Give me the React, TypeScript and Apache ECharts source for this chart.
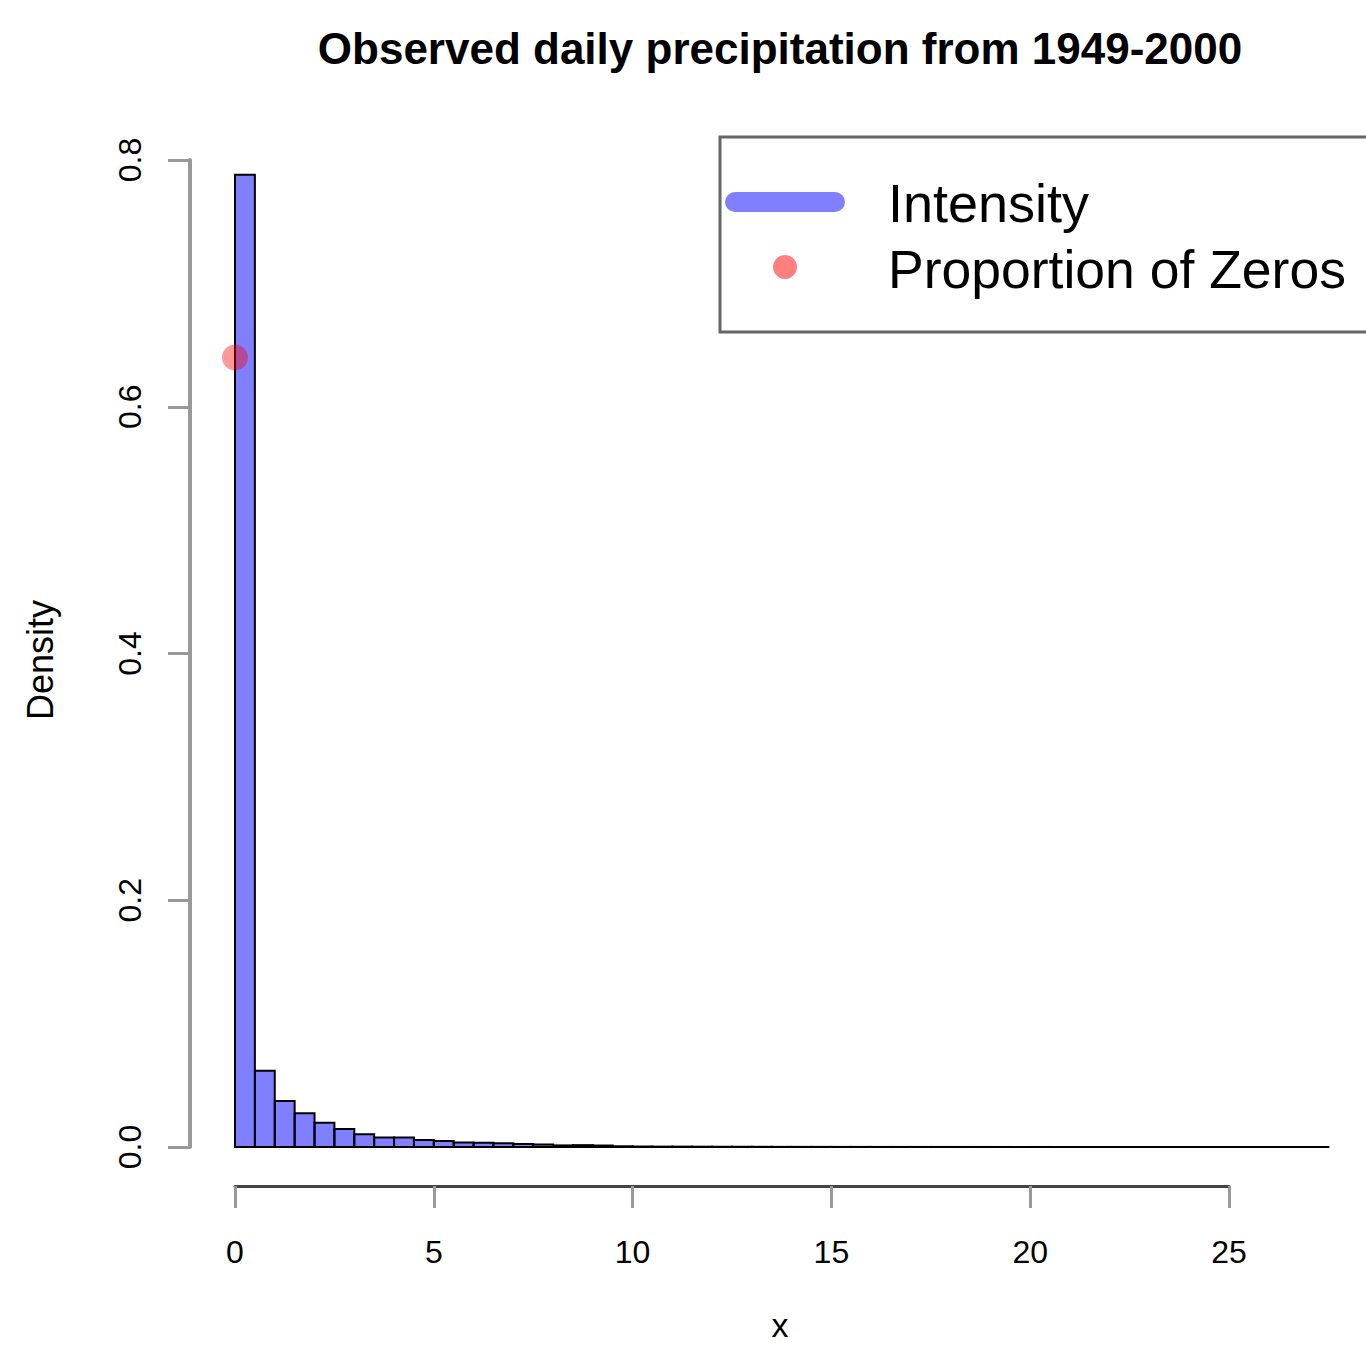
import React, { useEffect, useRef } from "react";
import * as echarts from "echarts";

// Histogram bins: left edges start at 0, width 0.5
const binWidth = 0.5;
const densities = [
  0.788, 0.0618, 0.0372, 0.0273, 0.0197, 0.0146, 0.0104, 0.0077, 0.0076, 0.0057,
  0.0048, 0.0036, 0.0034, 0.003, 0.0025, 0.002, 0.0013, 0.0015, 0.0012, 0.0006,
  0.0004, 0.0003, 0.0003, 0.00025, 0.0002, 0.0002, 0.00015, 0.00012, 0.0001, 0.0001,
  0.00008, 0.00008, 0.00006, 0.00006, 0.00005, 0.00005, 0.00004, 0.00004, 0.00003, 0.00003,
  0.00003, 0.00002, 0.00002, 0.00002, 0.00002, 0.00001, 0.00001, 0.00001, 0.00001, 0.00001,
  0.00001, 0.00001, 0.00001, 0.00001, 0.00001,
];
const zeroProportion = [[0, 0.64]];
const yTicks = [0, 0.2, 0.4, 0.6, 0.8];
const xTicks = [0, 5, 10, 15, 20, 25];
const titleText = "Observed daily precipitation from 1949-2000";
const legendNames = ["Intensity", "Proportion of Zeros"];
const xLabel = "x";
const yLabel = "Density";

const FONT = "'Liberation Sans', Arial, Helvetica, sans-serif";

export default function App() {
  const ref = useRef<HTMLDivElement>(null);
  useEffect(() => {
    if (!ref.current) return;
    const chart = echarts.init(ref.current, null, { renderer: "svg" });
    const histData = densities.map((d, i) => [i * binWidth, (i + 1) * binWidth, d]);
    const option: any = {
      animation: false,
      backgroundColor: "#fff",
      grid: [
        { left: 235, top: 160, width: 1093.4, height: 987 },
        { left: 235, top: 1100, width: 994, height: 86 },
      ],
      xAxis: [
        { type: "value", gridIndex: 0, min: 0, max: 27.5, show: false },
        {
          type: "value",
          gridIndex: 1,
          min: xTicks[0],
          max: xTicks[xTicks.length - 1],
          interval: 5,
          axisLine: { show: true, onZero: false, lineStyle: { color: "#444", width: 3 } },
          axisTick: { show: true, length: 22, lineStyle: { color: "#999", width: 3 } },
          axisLabel: { fontSize: 32, fontFamily: FONT, color: "#000", margin: 50 },
          splitLine: { show: false },
        },
      ],
      yAxis: [
        {
          type: "value",
          gridIndex: 0,
          min: yTicks[0],
          max: yTicks[yTicks.length - 1],
          interval: 0.2,
          offset: 45,
          axisLine: { show: true, onZero: false, lineStyle: { color: "#999", width: 4 } },
          axisTick: { show: true, length: 22, lineStyle: { color: "#999", width: 3 } },
          axisLabel: {
            fontSize: 32,
            fontFamily: FONT,
            color: "#000",
            rotate: 90,
            margin: 44,
            formatter: (v: number) => v.toFixed(1),
          },
          splitLine: { show: false },
        },
        { type: "value", gridIndex: 1, min: 0, max: 1, show: false },
      ],
      series: [
        {
          type: "custom",
          name: legendNames[0],
          xAxisIndex: 0,
          yAxisIndex: 0,
          data: histData,
          encode: { x: [0, 1], y: 2 },
          renderItem: (params: any, api: any) => {
            const p0 = api.coord([api.value(0), api.value(2)]);
            const p1 = api.coord([api.value(1), 0]);
            return {
              type: "rect",
              shape: { x: p0[0], y: p0[1], width: p1[0] - p0[0], height: p1[1] - p0[1] },
              style: { fill: "rgba(0,0,255,0.5)", stroke: "#000", lineWidth: 2 },
            };
          },
          z: 2,
        },
        {
          type: "scatter",
          name: legendNames[1],
          xAxisIndex: 0,
          yAxisIndex: 0,
          data: zeroProportion,
          symbolSize: 26,
          itemStyle: { color: "rgba(255,0,0,0.5)" },
          z: 3,
        },
      ],
      graphic: [
        {
          type: "text",
          x: 780,
          y: 48,
          style: {
            text: titleText,
            fontSize: 44,
            fontWeight: "bold",
            fontFamily: FONT,
            fill: "#000",
            align: "center",
            verticalAlign: "middle",
          },
        },
        {
          type: "text",
          x: 40,
          y: 660,
          rotation: Math.PI / 2,
          style: {
            text: yLabel,
            fontSize: 36,
            fontFamily: FONT,
            fill: "#000",
            align: "center",
            verticalAlign: "middle",
          },
        },
        {
          type: "text",
          x: 780,
          y: 1325,
          style: {
            text: xLabel,
            fontSize: 34,
            fontFamily: FONT,
            fill: "#000",
            align: "center",
            verticalAlign: "middle",
          },
        },
        {
          type: "rect",
          shape: { x: 720, y: 137, width: 700, height: 195 },
          style: { fill: "#fff", stroke: "#666", lineWidth: 3 },
        },
        {
          type: "line",
          shape: { x1: 735, y1: 202, x2: 835, y2: 202 },
          style: { stroke: "#8080ff", lineWidth: 20, lineCap: "round" },
        },
        {
          type: "circle",
          shape: { cx: 785, cy: 267, r: 12 },
          style: { fill: "rgba(255,0,0,0.5)" },
        },
        {
          type: "text",
          x: 888,
          y: 203,
          style: {
            text: legendNames[0],
            fontSize: 54,
            fontFamily: FONT,
            fill: "#000",
            align: "left",
            verticalAlign: "middle",
          },
        },
        {
          type: "text",
          x: 888,
          y: 269,
          style: {
            text: legendNames[1],
            fontSize: 53.5,
            fontFamily: FONT,
            fill: "#000",
            align: "left",
            verticalAlign: "middle",
          },
        },
      ],
    };
    chart.setOption(option);
    return () => chart.dispose();
  }, []);
  return (
    <div
      ref={ref}
      style={{ position: "absolute", left: 0, top: 0, width: 1366, height: 1348 }}
    />
  );
}
